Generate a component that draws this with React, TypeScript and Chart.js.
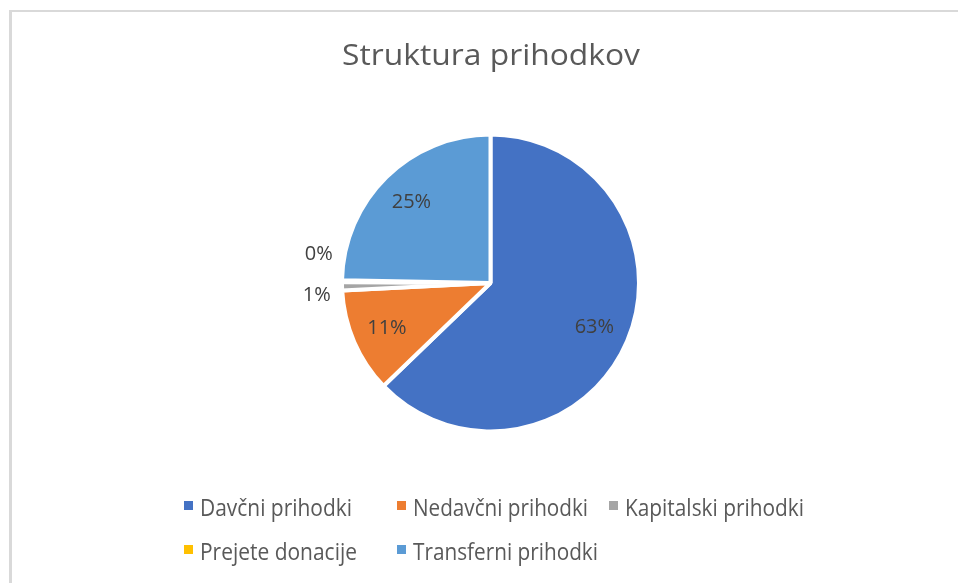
import React, { useEffect, useRef } from "react";
import { Chart, registerables } from "chart.js";

Chart.register(...registerables);

const title = "Struktura prihodkov";
const categories = [
  "Davčni prihodki",
  "Nedavčni prihodki",
  "Kapitalski prihodki",
  "Prejete donacije",
  "Transferni prihodki",
];
const values = [62.8, 11.4, 0.9, 0.2, 24.7];
const colors = ["#4472C4", "#ED7D31", "#A5A5A5", "#FFC000", "#5B9BD5"];

// styling / layout helpers (not data)
const legendSlots = [
  { x: 184, y: 516 },
  { x: 397, y: 516 },
  { x: 609, y: 516 },
  { x: 184, y: 560 },
  { x: 397, y: 560 },
];
const legendTextWidths = [152, 175, 179, 157, 185];
const labelNudges = [
  [0, 0],
  [0, 0],
  [0, 8],
  [2, -27],
  [0, 0],
];

const FONT = '"Open Sans", "DejaVu Sans", sans-serif';

function fitText(
  ctx: CanvasRenderingContext2D,
  text: string,
  x: number,
  y: number,
  size: number,
  target: number,
  align: CanvasTextAlign
) {
  ctx.save();
  ctx.font = `${size}px ${FONT}`;
  const w = ctx.measureText(text).width || 1;
  const s = target / w;
  ctx.translate(x, y);
  ctx.scale(s, 1);
  ctx.textAlign = align;
  ctx.textBaseline = "alphabetic";
  ctx.fillText(text, 0, 0);
  ctx.restore();
}

const decorPlugin = {
  id: "decor",
  afterDraw(chart: any) {
    const ctx: CanvasRenderingContext2D = chart.ctx;
    // title
    ctx.fillStyle = "#595959";
    fitText(ctx, title, 491, 65, 30, 298, "center");

    // data labels
    const meta = chart.getDatasetMeta(0);
    const data = chart.data.datasets[0].data as number[];
    const total = data.reduce((a, b) => a + b, 0);
    ctx.save();
    ctx.font = `20px ${FONT}`;
    ctx.fillStyle = "#404040";
    ctx.textAlign = "center";
    ctx.textBaseline = "middle";
    meta.data.forEach((arc: any, i: number) => {
      const { x, y, startAngle, endAngle, outerRadius } = arc.getProps(
        ["x", "y", "startAngle", "endAngle", "outerRadius"],
        true
      );
      const pct = (data[i] / total) * 100;
      const mid = (startAngle + endAngle) / 2;
      const r = pct >= 3 ? outerRadius * 0.76 : outerRadius * 1.17;
      const lx = x + Math.cos(mid) * r + labelNudges[i][0];
      const ly = y + Math.sin(mid) * r + labelNudges[i][1];
      ctx.fillText(`${Math.round(pct)}%`, lx, ly);
    });
    ctx.restore();

    // legend
    const labels = chart.data.labels as string[];
    labels.forEach((lab, i) => {
      const slot = legendSlots[i];
      ctx.fillStyle = colors[i];
      ctx.fillRect(slot.x, slot.y - 15, 9, 9);
      ctx.fillStyle = "#595959";
      fitText(ctx, lab, slot.x + 16, slot.y, 23, legendTextWidths[i], "left");
    });
  },
};

export default function App() {
  const ref = useRef<HTMLCanvasElement>(null);
  useEffect(() => {
    if (!ref.current) return;
    const chart = new Chart(ref.current, {
      type: "pie",
      data: {
        labels: categories,
        datasets: [
          {
            data: values,
            backgroundColor: colors,
            borderColor: "#ffffff",
            borderWidth: 4,
            hoverOffset: 0,
            offset: 0,
          },
        ],
      },
      options: {
        responsive: false,
        animation: false,
        events: [],
        layout: { padding: { top: 132.5, bottom: 149.5, left: 23, right: 0 } },
        plugins: {
          legend: { display: false },
          title: { display: false },
          tooltip: { enabled: false },
        },
      },
      plugins: [decorPlugin],
    });
    return () => chart.destroy();
  }, []);

  return (
    <div
      style={{
        position: "fixed",
        left: 0,
        top: 0,
        width: 958,
        height: 583,
        overflow: "hidden",
        background: "#ffffff",
      }}
    >
      <div
        style={{
          position: "absolute",
          left: 9,
          top: 10,
          width: 2000,
          height: 2000,
          borderLeft: "3px solid #d9d9d9",
          borderTop: "2px solid #d9d9d9",
        }}
      />
      <canvas
        ref={ref}
        width={958}
        height={583}
        style={{ position: "absolute", left: 0, top: 0, width: 958, height: 583 }}
      />
    </div>
  );
}
